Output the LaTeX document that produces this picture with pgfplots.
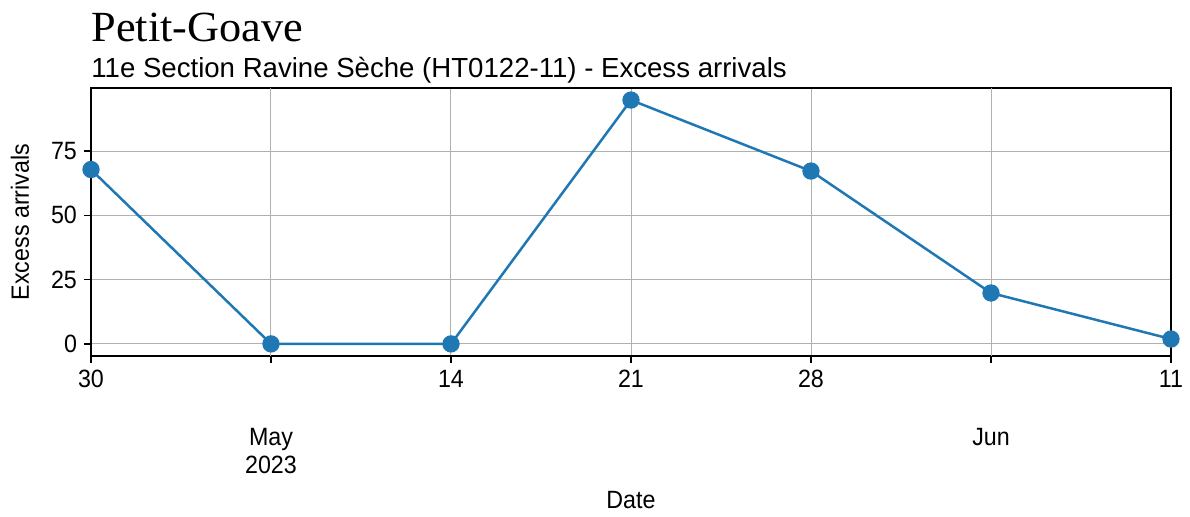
\documentclass[border=0pt]{standalone}
\usepackage{pgfplots}
\pgfplotsset{compat=1.18}
\usepackage{fontspec}
\setmainfont{Liberation Sans}
\newfontfamily\condfont{Liberation Sans}[FakeStretch=0.93]
\newfontfamily\titlefont{Liberation Serif}[FakeStretch=1.03]
\definecolor{tabblue}{HTML}{1F77B4}
\begin{document}
\begin{tikzpicture}
\begin{axis}[
  scale only axis,
  width=540pt, height=134pt,
  xmin=0, xmax=42, ymin=-4.7, ymax=99.5,
  clip=false,
  axis line style={line width=0.6pt},
  tick align=outside,
  xtick pos=bottom, ytick pos=left,
  major tick length=3.5pt,
  tick style={black, line width=0.6pt},
  xtick={0,14,21,28,42},
  xticklabels={30,14,21,28,11},
  extra x ticks={7,35},
  extra x tick labels={May\\2023,Jun},
  extra x tick style={grid=major, tick label style={align=center, yshift=-29pt}},
  ytick={0,25,50,75},
  grid=major,
  grid style={color=black!31, line width=0.5pt},
  /pgf/number format/assume math mode=true,
  tick label style={font=\condfont\fontsize{12.5}{14}\selectfont},
  xlabel={Date}, ylabel={Excess arrivals},
  label style={font=\condfont\fontsize{12.5}{14}\selectfont},
  xlabel style={at={(axis description cs:0.5,-0.537)}, anchor=center},
  ylabel style={at={(axis description cs:-0.0657,0.5)}, anchor=center, rotate=0},
]
\addplot[color=tabblue, line width=1.25pt, mark=*, mark size=3.7pt, mark options={fill=tabblue, draw=tabblue}]
  coordinates {(0,67.8) (7,0) (14,0) (21,94.8) (28,67.2) (35,19.8) (42,1.9)};
\node[anchor=base west, inner sep=0pt, font=\titlefont\fontsize{21.5}{24}\selectfont] at (rel axis cs:0,1) [yshift=23pt] {Petit-Goave};
\node[anchor=base west, inner sep=0pt, font=\fontsize{13.8}{16}\selectfont] at (rel axis cs:0,1) [yshift=5pt] {11e Section Ravine Sèche (HT0122-11) - Excess arrivals};
\end{axis}
\useasboundingbox (-45.5pt,-80.5pt) rectangle (549.5pt,178pt);
\end{tikzpicture}
\end{document}
